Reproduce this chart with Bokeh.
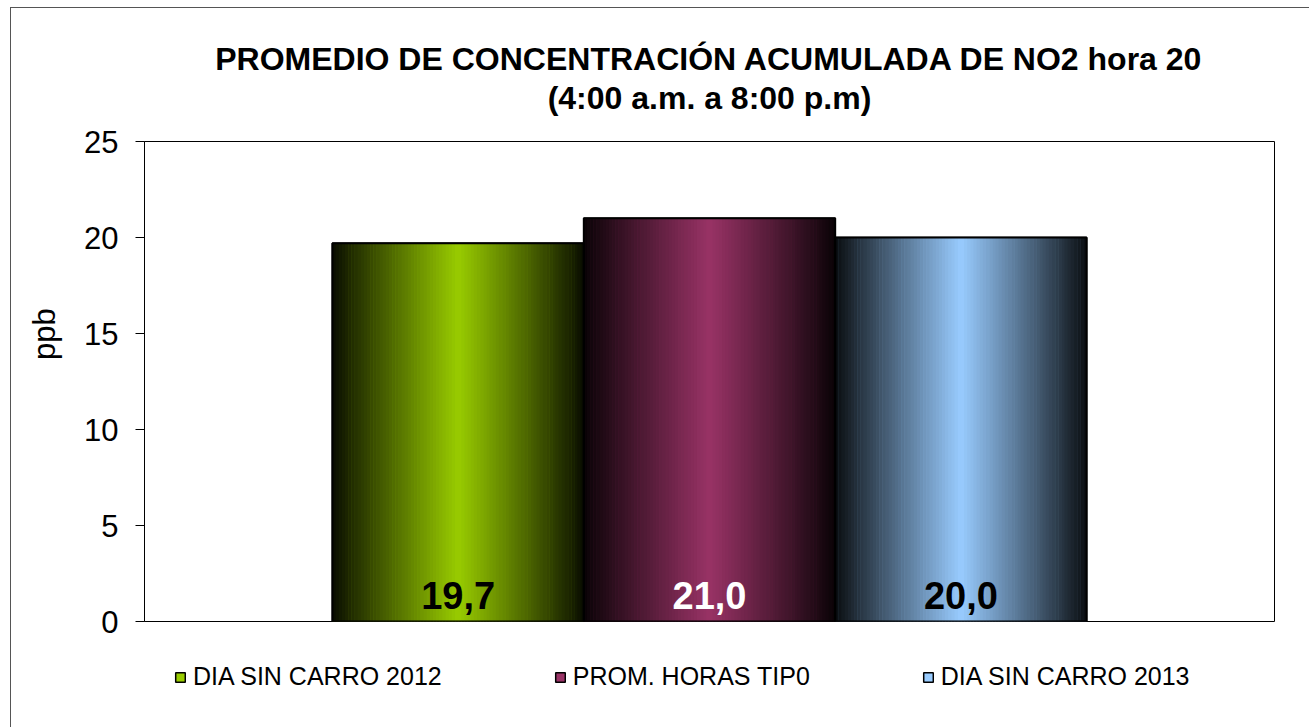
import numpy as np
from bokeh.plotting import figure
from bokeh.layouts import column
from bokeh.models import (Range1d, Title, Legend, LegendItem, ColumnDataSource,
                          FixedTicker)
from bokeh.core.properties import value
from bokeh.embed import file_html
from bokeh.resources import INLINE

# ---- data ----
series = ["DIA SIN CARRO 2012", "PROM. HORAS TIP0", "DIA SIN CARRO 2013"]
values = [19.7, 21.0, 20.0]
value_labels = ["19,7", "21,0", "20,0"]
colors = ["#99CC00", "#993366", "#99CCFF"]
label_colors = ["#000000", "#FFFFFF", "#000000"]
title_lines = ["PROMEDIO DE CONCENTRACIÓN ACUMULADA DE NO2 hora 20",
               "(4:00 a.m. a 8:00 p.m)"]
y_ticks = [0, 5, 10, 15, 20, 25]
y_label = "ppb"

FONT = "Liberation Sans"
XR = (-0.7475, 3.7475)

p = figure(width=1298, height=633, output_backend="svg", toolbar_location=None,
           tools="", x_range=Range1d(*XR), y_range=Range1d(0, 25),
           min_border_left=133, min_border_right=35, min_border_top=133,
           min_border_bottom=20)

p.outline_line_color = "#000000"
p.outline_line_width = 1
p.xgrid.visible = False
p.ygrid.visible = False
p.xaxis.visible = False

ax = p.yaxis[0]
ax.ticker = FixedTicker(ticks=y_ticks)
# leading no-break spaces lift the label above the axis centre, as in the original
ax.axis_label = "\u00a0" * 11 + y_label
ax.axis_label_text_font = FONT
ax.axis_label_text_font_size = "31px"
ax.axis_label_text_font_style = "normal"
ax.axis_label_text_color = "#000000"
ax.axis_label_standoff = 19
ax.major_label_text_font = FONT
ax.major_label_text_font_size = "31px"
ax.major_label_text_color = "#000000"
ax.major_label_standoff = 17
ax.major_tick_out = 9
ax.major_tick_in = 0
ax.minor_tick_out = 0
ax.minor_tick_in = 0
ax.axis_line_color = "#000000"
ax.major_tick_line_color = "#000000"


def mix(c, f, dark=0.06):
    r, g, b = int(c[1:3], 16), int(c[3:5], 16), int(c[5:7], 16)
    k = dark + (1 - dark) * f
    return "#%02x%02x%02x" % (int(r * k), int(g * k), int(b * k))


# base bars
for i, (v, c) in enumerate(zip(values, colors)):
    p.quad(left=[i], right=[i + 1], bottom=[0], top=[v], fill_color=c,
           line_color="#000000", line_width=1.5)

# gradient strips
N = 80
L, R, T, C = [], [], [], []
for i, (v, c) in enumerate(zip(values, colors)):
    for k in range(N):
        t = (k + 0.5) / N
        f = (1 - abs(2 * t - 1)) ** 0.95
        L.append(i + k / N)
        R.append(i + (k + 1) / N + 0.002)
        T.append(v)
        C.append(mix(c, f))
strips = ColumnDataSource(dict(left=L, right=R, top=T, bottom=[0] * len(L), color=C))
p.quad(left="left", right="right", top="top", bottom="bottom", fill_color="color",
       line_color=None, source=strips)

# outlines
p.quad(left=list(range(len(values))), right=[i + 1 for i in range(len(values))],
       bottom=[0] * len(values), top=values, fill_color=None,
       line_color="#000000", line_width=2)

# value labels
lab = ColumnDataSource(dict(x=[i + 0.5 for i in range(len(values))],
                            y=[1.35] * len(values), text=value_labels,
                            color=label_colors))
p.text(x="x", y="y", text="text", text_color="color", source=lab,
       text_align="center", text_baseline="middle",
       text_font=value(FONT), text_font_size="38px", text_font_style="bold")

# titles (first added is nearest to the frame)
p.add_layout(Title(text=" ", text_font_size="1px", standoff=22), "above")
p.add_layout(Title(text=title_lines[1], align="center", text_font=FONT,
                   text_font_size="32px", text_font_style="bold",
                   text_color="#000000", standoff=2), "above")
p.add_layout(Title(text=title_lines[0], align="center", text_font=FONT,
                   text_font_size="32px", text_font_style="bold",
                   text_color="#000000", standoff=0), "above")

# ---- legend strip (separate figure so it is not clipped) ----
lf = figure(width=1298, height=86, output_backend="svg", toolbar_location=None,
            tools="", x_range=Range1d(*XR), y_range=Range1d(100, 101),
            min_border_left=0, min_border_right=0, min_border_top=0,
            min_border_bottom=0)
lf.axis.visible = False
lf.grid.visible = False
lf.outline_line_color = None
leg_renderers = []
for i, (v, c) in enumerate(zip(values, colors)):
    r = lf.quad(left=[i], right=[i + 1], bottom=[0], top=[v], fill_color=c,
                line_color="#000000", line_width=1.5)
    leg_renderers.append(r)

legend = Legend(items=[LegendItem(label=s, renderers=[r])
                       for s, r in zip(series, leg_renderers)],
                orientation="horizontal", location=(30, 36),
                glyph_width=12, glyph_height=12, label_standoff=7, spacing=112,
                padding=0, margin=0, border_line_color=None,
                background_fill_alpha=0, label_text_font=FONT,
                label_text_font_size="25px", label_text_color="#000000")
lf.add_layout(legend)

layout = column(p, lf, spacing=0,
                styles={"margin-left": "10px", "margin-top": "7px",
                        "border-left": "1px solid #555555",
                        "border-top": "1px solid #555555"})

open("out.html", "w").write(file_html(layout, INLINE))
